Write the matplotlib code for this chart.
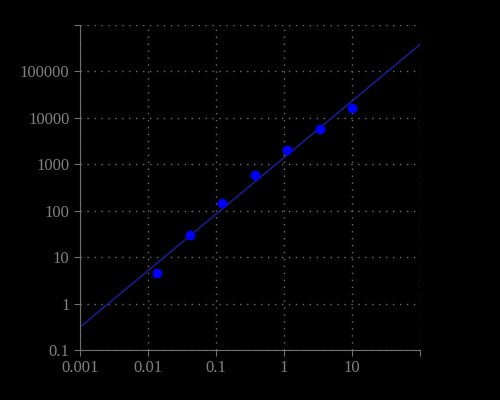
import matplotlib
matplotlib.use("Agg")
import matplotlib.pyplot as plt
from matplotlib.ticker import FixedLocator, FixedFormatter, NullLocator

x_pts = [0.0137, 0.041, 0.123, 0.37, 1.11, 3.33, 10.0]
y_pts = [4.5, 30, 145, 580, 2000, 5800, 16000]
fit_x = [0.001, 100]
fit_y = [0.31, 3.8e5]
xticks = [0.001, 0.01, 0.1, 1, 10, 100]
xlabels = ["0.001", "0.01", "0.1", "1", "10", ""]
yticks = [0.1, 1, 10, 100, 1000, 10000, 100000, 1e6]
ylabels = ["0.1", "1", "10", "100", "1000", "10000", "100000", ""]

fig = plt.figure(figsize=(5, 4), dpi=100, facecolor="black")
ax = fig.add_axes([0.16, 0.125, 0.68, 0.8125], facecolor="black")
ax.set_xscale("log"); ax.set_yscale("log")
ax.set_xlim(0.001, 100); ax.set_ylim(0.1, 1e6)
ax.plot(fit_x, fit_y, color="#1a1a8c", lw=1.2, zorder=2)
ax.scatter(x_pts, y_pts, color="#0000ff", s=36, zorder=3)
ax.xaxis.set_major_locator(FixedLocator(xticks)); ax.xaxis.set_major_formatter(FixedFormatter(xlabels))
ax.yaxis.set_major_locator(FixedLocator(yticks)); ax.yaxis.set_major_formatter(FixedFormatter(ylabels))
ax.xaxis.set_minor_locator(NullLocator()); ax.yaxis.set_minor_locator(NullLocator())
ax.grid(True, color="#707070", ls=(0, (1, 4)), lw=1.0)
for s in ["top", "right"]:
    ax.spines[s].set_visible(False)
for s in ["left", "bottom"]:
    ax.spines[s].set_color("#707070")
ax.tick_params(colors="#707070", labelcolor="#808080", length=4)
for lab in ax.get_xticklabels() + ax.get_yticklabels():
    lab.set_family("Liberation Serif"); lab.set_fontsize(12)
fig.savefig("out.png", dpi=100, facecolor="black")
